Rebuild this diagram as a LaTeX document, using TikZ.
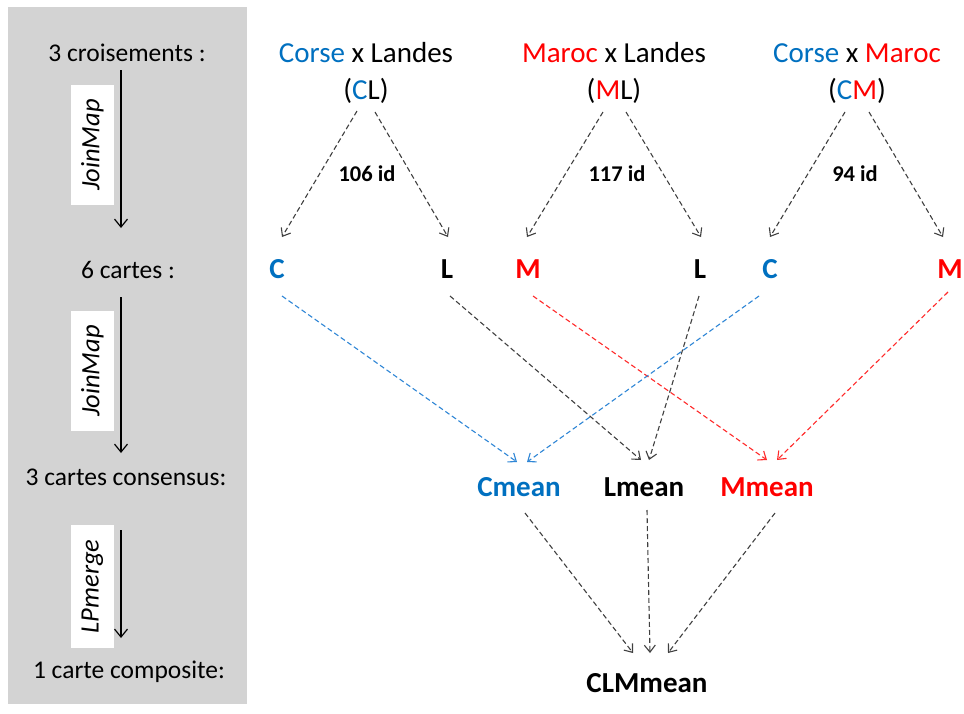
\documentclass[tikz,border=0pt]{standalone}
\usepackage{fontspec}
\setmainfont{Carlito}
\usetikzlibrary{arrows.meta}
\definecolor{cblue}{HTML}{0070C0}
\definecolor{cred}{HTML}{FF0000}
\definecolor{lblue}{HTML}{2F86D6}
\definecolor{lred}{HTML}{FF2A2A}
\definecolor{dgray}{HTML}{404040}
\definecolor{panel}{HTML}{D3D3D3}
\tikzset{
  lbl/.style={font=\fontsize{25.5}{30}\selectfont, inner sep=0pt},
  ttl/.style={font=\fontsize{29}{34}\selectfont, inner sep=0pt},
  bnode/.style={font=\fontsize{29}{34}\selectfont\bfseries, inner sep=0pt},
  idl/.style={font=\fontsize{22.5}{26}\selectfont\bfseries, inner sep=0pt},
  toolbox/.style={font=\fontsize{26.5}{30}\selectfont\itshape, rotate=90, fill=white, inner sep=0pt, minimum height=43pt},
  stepar/.style={draw=black, line width=1.2pt, -{Straight Barb[length=8pt,width=13pt,line width=1.2pt]}},
  dar/.style={line width=1.1pt, dash pattern=on 5pt off 3pt, -{Straight Barb[length=7pt,width=11pt,line width=1.1pt]}},
  darg/.style={dar, draw=dgray},
  darb/.style={dar, draw=lblue},
  darr/.style={dar, draw=lred},
}
\begin{document}
\begin{tikzpicture}[x=1pt,y=-1pt]
\useasboundingbox (0,0) rectangle (964,713);
\fill[white] (0,0) rectangle (964,713);
\fill[panel] (8,7) rectangle (247,704);

% left column
\node[lbl] (s1) at (127,53) {3 croisements :};
\node[lbl] (s2) at (128,270) {6 cartes :};
\node[lbl] (s3) at (126,477) {3 cartes consensus:};
\node[lbl] (s4) at (129,672) {1 carte composite:};
\node[toolbox, minimum width=120pt] (b1) at (92.5,145) {JoinMap};
\node[toolbox, minimum width=120pt] (b2) at (92.5,371) {JoinMap};
\node[toolbox, minimum width=123pt] (b3) at (92.5,586.5) {LPmerge};
\draw[stepar] ([shift={(-6,17)}]s1.center) -- ([shift={(-7,-42)}]s2.center);
\draw[stepar] ([shift={(-7,27)}]s2.center) -- ([shift={(-5,-24)}]s3.center);
\draw[stepar] ([shift={(-5,53)}]s3.center) -- ([shift={(-8,-34)}]s4.center);

% crosses
\node[ttl] (t1) at (366,53) {\textcolor{cblue}{Corse} x Landes};
\node[ttl] (CL) at (366,91) {(\textcolor{cblue}{C}L)};
\node[ttl] (t2) at (614,53) {\textcolor{cred}{Maroc} x Landes};
\node[ttl] (ML) at (614,91) {(\textcolor{cred}{M}L)};
\node[ttl] (t3) at (857,53) {\textcolor{cblue}{Corse} x \textcolor{cred}{Maroc}};
\node[ttl] (CM) at (857,91) {(\textcolor{cblue}{C}\textcolor{cred}{M})};

\node[idl] (id1) at (367,174) {106 id};
\node[idl] (id2) at (617,174) {117 id};
\node[idl] (id3) at (855,174) {94 id};

% maps
\node[bnode, text=cblue] (C1) at (277,269) {C};
\node[bnode] (L1) at (447,269) {L};
\node[bnode, text=cred] (M2) at (528,269) {M};
\node[bnode] (L2) at (700,269) {L};
\node[bnode, text=cblue] (C3) at (770,269) {C};
\node[bnode, text=cred] (M3) at (950,269) {M};

\node[bnode, text=cblue] (Cmean) at (519,487) {Cmean};
\node[bnode] (Lmean) at (644,487) {Lmean};
\node[bnode, text=cred] (Mmean) at (767,487) {Mmean};
\node[bnode] (CLM) at (647,683) {CLMmean};

% top arrows
\draw[darg] ([shift={(-9,20)}]CL.center) -- ([shift={(5,-32)}]C1.center);
\draw[darg] ([shift={(9,21)}]CL.center) -- ([shift={(1,-32)}]L1.center);
\draw[darg] ([shift={(-11,21)}]ML.center) -- ([shift={(-1,-32)}]M2.center);
\draw[darg] ([shift={(12,21)}]ML.center) -- ([shift={(1,-32)}]L2.center);
\draw[darg] ([shift={(-12,21)}]CM.center) -- ([shift={(0,-32)}]C3.center);
\draw[darg] ([shift={(12,21)}]CM.center) -- ([shift={(-7,-32)}]M3.center);

% middle arrows
\draw[darb] ([shift={(5,27)}]C1.center) -- ([shift={(-2,-25)}]Cmean.center);
\draw[darg] ([shift={(3,27)}]L1.center) -- ([shift={(-3,-27)}]Lmean.center);
\draw[darr] ([shift={(5,27)}]M2.center) -- ([shift={(0,-27)}]Mmean.center);
\draw[darg] ([shift={(-1,27)}]L2.center) -- ([shift={(5,-27)}]Lmean.center);
\draw[darb] ([shift={(-11,27)}]C3.center) -- ([shift={(8,-25)}]Cmean.center);
\draw[darr] ([shift={(-2,23)}]M3.center) -- ([shift={(10,-27)}]Mmean.center);

% bottom arrows
\draw[darg] ([shift={(6,26)}]Cmean.center) -- ([shift={(-14,-30)}]CLM.center);
\draw[darg] ([shift={(3,23)}]Lmean.center) -- ([shift={(3,-30)}]CLM.center);
\draw[darg] ([shift={(8,26)}]Mmean.center) -- ([shift={(21,-30)}]CLM.center);
\end{tikzpicture}
\end{document}
